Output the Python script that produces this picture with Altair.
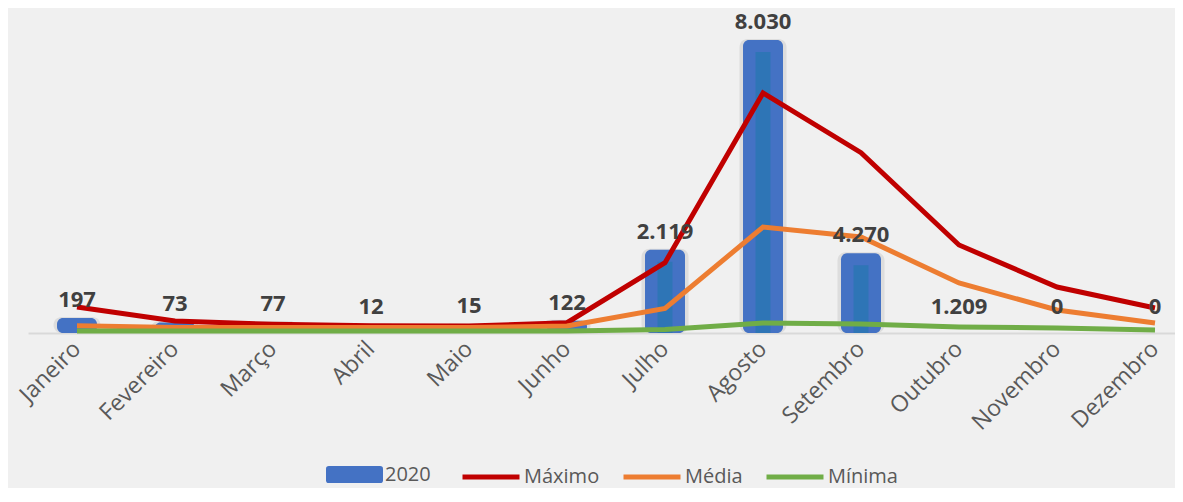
import altair as alt
import pandas as pd

meses = ["Janeiro", "Fevereiro", "Março", "Abril", "Maio", "Junho",
         "Julho", "Agosto", "Setembro", "Outubro", "Novembro", "Dezembro"]
barras_2020 = [197, 73, 77, 12, 15, 122, 2119, 8030, 2020, 0, 0, 0]
rotulos_2020 = ["197", "73", "77", "12", "15", "122", "2.119", "8.030", "4.270", "1.209", "0", "0"]
maximo = [733, 338, 245, 206, 197, 290, 1981, 6763, 5081, 2480, 1296, 705]
media = [206, 155, 155, 155, 155, 197, 690, 2987, 2705, 1409, 648, 282]
minima = [56, 56, 56, 56, 56, 56, 99, 282, 254, 169, 141, 85]

series_linhas = ["Máximo", "Média", "Mínima"]
cores_linhas = ["#C00000", "#ED7D31", "#70AD47"]
cor_barra = "#4472C4"
cor_barra_interna = "#2E75B6"

df_bar = pd.DataFrame({"mes": meses, "valor": barras_2020, "rotulo": rotulos_2020, "serie": "2020"})
linhas = []
for nome, vals in zip(series_linhas, [maximo, media, minima]):
    for m, v in zip(meses, vals):
        linhas.append({"mes": m, "valor": v, "serie": nome})
df_lin = pd.DataFrame(linhas)

FONT = "Open Sans"
rect_path = ("M-0.9,-0.3 H0.9 Q1,-0.3 1,-0.2 V0.2 Q1,0.3 0.9,0.3 "
             "H-0.9 Q-1,0.3 -1,0.2 V-0.2 Q-1,-0.3 -0.9,-0.3 Z")

x_enc = alt.X("mes:N", sort=meses, title=None,
              scale=alt.Scale(paddingInner=0.592, paddingOuter=0.148, align=1),
              axis=alt.Axis(labelAngle=-45, labelAlign="right", labelBaseline="middle",
                            labelFont=FONT, labelFontSize=23, labelColor="#595959",
                            ticks=False, labelPadding=12, domainColor="#D9D9D9",
                            domainWidth=2, grid=False))
y_scale = alt.Scale(domain=[0, 9158], nice=False, zero=True)
y_enc = alt.Y("valor:Q", scale=y_scale, axis=None)

leg_common = dict(title=None, orient="none", direction="horizontal", padding=0,
                  symbolSize=3249, labelFont=FONT, labelFontSize=20,
                  labelColor="#595959", labelOffset=2, columnPadding=13)

fill_enc = alt.Fill("serie:N", scale=alt.Scale(domain=["2020"], range=[cor_barra]),
                    legend=alt.Legend(legendX=298, legendY=438, symbolType=rect_path,
                                      symbolStrokeWidth=0, **leg_common))
stroke_enc = alt.Stroke("serie:N", scale=alt.Scale(domain=series_linhas, range=cores_linhas),
                        legend=alt.Legend(legendX=432, legendY=438, symbolType="stroke",
                                          symbolStrokeWidth=5, **leg_common))

base_bar = alt.Chart(df_bar)
shadow = base_bar.transform_filter("datum.valor > 0").mark_bar(
    cornerRadiusEnd=8, yOffset=-9, size=47, color="#000000", opacity=0.08).encode(
    x=x_enc, y=y_enc, y2=alt.datum(0))
bars = base_bar.transform_filter("datum.valor > 0").mark_bar(
    cornerRadiusEnd=6, yOffset=-8).encode(
    x=x_enc, y=y_enc, y2=alt.datum(0), fill=fill_enc)
inner = base_bar.transform_filter("datum.valor > 1000").mark_bar(
    size=15, yOffset=4, color=cor_barra_interna).encode(
    x=x_enc, y=y_enc, y2=alt.datum(0))
lines = alt.Chart(df_lin).mark_line(strokeWidth=5, strokeJoin="miter").encode(
    x=x_enc, y=y_enc, stroke=stroke_enc, detail="serie:N")
labels = base_bar.mark_text(dy=-26, font=FONT, fontSize=22, fontWeight="bold",
                            color="#404040", baseline="middle").encode(
    x=x_enc, y=y_enc, text="rotulo:N")

chart = alt.layer(shadow, bars, inner, lines, labels).properties(
    width=1147, height=325,
    autosize=alt.AutoSizeParams(type="none"),
    padding={"left": 20, "top": 0, "right": 0, "bottom": 155},
    background="#F0F0F0",
).resolve_legend(fill="independent", stroke="independent").configure_view(stroke=None)

chart.save("out.html", embed_options={"renderer": "svg", "actions": False})
